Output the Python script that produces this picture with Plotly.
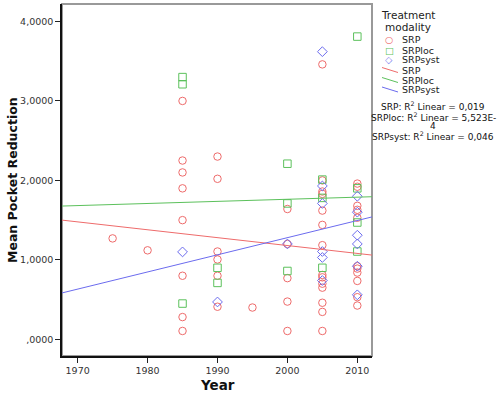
import plotly.graph_objects as go

# ---- data ----
srp_year = [1975, 1980,
            1985, 1985, 1985, 1985, 1985, 1985, 1985, 1985,
            1990, 1990, 1990, 1990, 1990, 1990,
            1995,
            2000, 2000, 2000, 2000, 2000,
            2005, 2005, 2005, 2005, 2005, 2005, 2005, 2005, 2005, 2005, 2005, 2005, 2005, 2005,
            2010, 2010, 2010, 2010, 2010, 2010, 2010, 2010, 2010, 2010, 2010]
srp_val = [1.27, 1.12,
           3.00, 2.25, 2.10, 1.90, 1.50, 0.80, 0.28, 0.105,
           2.30, 2.02, 1.105, 1.005, 0.80, 0.41,
           0.40,
           1.64, 1.20, 0.77, 0.475, 0.105,
           3.46, 2.00, 1.86, 1.83, 1.62, 1.44, 1.185, 0.81, 0.78, 0.70, 0.65, 0.46, 0.345, 0.105,
           1.96, 1.92, 1.68, 1.63, 1.53, 0.92, 0.89, 0.84, 0.735, 0.53, 0.425]

srploc_year = [1985, 1985, 1985, 1990, 1990, 2000, 2000, 2000, 2005, 2005, 2005,
               2010, 2010, 2010, 2010]
srploc_val = [3.30, 3.21, 0.45, 0.90, 0.71, 2.21, 1.71, 0.86, 2.01, 1.78, 0.90,
              3.81, 1.90, 1.47, 1.105]

srpsyst_year = [1985, 1990, 2000, 2005, 2005, 2005, 2005, 2005, 2005,
                2010, 2010, 2010, 2010, 2010, 2010]
srpsyst_val = [1.10, 0.47, 1.20, 3.62, 1.93, 1.71, 1.105, 1.03, 0.74,
               1.80, 1.60, 1.31, 1.20, 0.92, 0.56]

# linear fit lines: value at 1970 and 2010
fit_names = ["SRP", "SRPloc", "SRPsyst"]
fit_at_1970 = [1.478, 1.683, 0.632]
fit_at_2010 = [1.081, 1.789, 1.495]

x_range = [1967.76, 2012.1]
y_range = [-0.21, 4.22]
x_ticks = [1970, 1980, 1990, 2000, 2010]
y_ticks = [0, 1, 2, 3, 4]
y_ticktext = [",0000", "1,0000", "2,0000", "3,0000", "4,0000"]
legend_title = ["Treatment", "modality"]
legend_symbols = ["○", "□", "◇"]
r2_lines = ["SRP: R<sup>2</sup> Linear = 0,019",
            "SRPloc: R<sup>2</sup> Linear = 5,523E-",
            "4",
            "SRPsyst: R<sup>2</sup> Linear = 0,046"]

RED = "#ee6b6b"
GREEN = "#5cc15c"
BLUE = "#6b6bee"
colors = [RED, GREEN, BLUE]

W, H = 500, 393
L, R, T, B = 62, 128, 4, 37
PW, PH = W - L - R, H - T - B


def px(x):
    return (x - L) / PW


def py(y):
    return (H - B - y) / PH


fig = go.Figure()
for name, xs, ys, sym, col in [("SRP", srp_year, srp_val, "circle-open", RED),
                               ("SRPloc", srploc_year, srploc_val, "square-open", GREEN),
                               ("SRPsyst", srpsyst_year, srpsyst_val, "diamond-open", BLUE)]:
    fig.add_trace(go.Scatter(x=xs, y=ys, mode="markers", name=name,
                             marker=dict(symbol=sym, size=7.5, color=col,
                                         line=dict(width=1, color=col))))

for name, a, b, col in zip(fit_names, fit_at_1970, fit_at_2010, colors):
    slope = (b - a) / 40.0
    xs = x_range
    ys = [a + slope * (x - 1970) for x in xs]
    fig.add_trace(go.Scatter(x=xs, y=ys, mode="lines", name=name,
                             line=dict(color=col, width=1)))

FONT = "DejaVu Sans"
ann = []
# axis titles
ann.append(dict(text="<b>Mean Pocket Reduction</b>", x=px(12), y=py(180), textangle=-90,
                font=dict(size=12.5, color="#111", family=FONT)))
ann.append(dict(text="<b>Year</b>", x=px(217), y=py(385),
                font=dict(size=13.5, color="#111", family=FONT)))
# legend title
for t, yy in zip(legend_title, [15, 27]):
    ann.append(dict(text=t, x=px(408), y=py(yy),
                    font=dict(size=10.5, color="#222", family=FONT)))
# legend entries
rows = [39.5, 50, 60, 70, 80, 89.5]
for i, (name, col) in enumerate(zip(fit_names, colors)):
    ann.append(dict(text=legend_symbols[i], x=px(389), y=py(rows[i]),
                    font=dict(size=9.5, color=col, family=FONT)))
for i, name in enumerate(fit_names * 2):
    ann.append(dict(text=name, x=px(400), y=py(rows[i]), xanchor="left",
                    font=dict(size=9.5, color="#222", family=FONT)))
# R^2 block
for t, yy in zip(r2_lines, [106, 116.5, 126, 135.5]):
    ann.append(dict(text=t, x=px(433), y=py(yy),
                    font=dict(size=9, color="#111", family=FONT)))
for a in ann:
    a.setdefault("xref", "paper")
    a.setdefault("yref", "paper")
    a.setdefault("showarrow", False)
    a.setdefault("xanchor", "center")
    a.setdefault("yanchor", "middle")
    fig.add_annotation(**a)

# legend line samples
for i, col in enumerate(colors):
    yc = rows[3 + i]
    fig.add_shape(type="line", xref="paper", yref="paper",
                  x0=px(382), x1=px(398), y0=py(yc - 2.5), y1=py(yc + 2.5),
                  line=dict(color=col, width=1))

# plot frame (gray top/right)
fig.add_shape(type="rect", xref="paper", yref="paper", x0=0, x1=1, y0=0, y1=1,
              line=dict(color="#999999", width=2), layer="below")

fig.update_layout(
    width=W, height=H,
    margin=dict(l=L, r=R, t=T, b=B),
    paper_bgcolor="white", plot_bgcolor="white",
    font=dict(family=FONT, color="#222"),
    showlegend=False,
    xaxis=dict(range=x_range, tickvals=x_ticks, ticks="outside", ticklen=5,
               tickcolor="#222", showline=True, linecolor="#111", linewidth=1.5,
               showgrid=False, zeroline=False, automargin=False,
               tickfont=dict(size=9.5, family=FONT, color="#333")),
    yaxis=dict(range=y_range, tickvals=y_ticks, ticktext=y_ticktext,
               ticks="outside", ticklen=5, tickcolor="#222", showline=True,
               linecolor="#111", linewidth=1.5, showgrid=False, zeroline=False,
               automargin=False, tickfont=dict(size=9.5, family=FONT, color="#333")),
)

fig.write_html("out.html", config={"displayModeBar": False},
               post_script="document.body.style.margin='0';")
